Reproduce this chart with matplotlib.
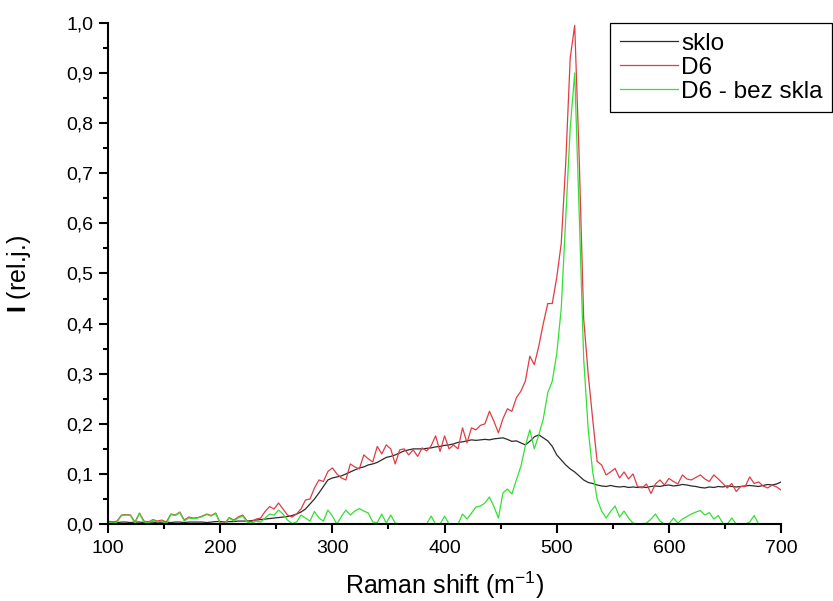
import numpy as np
import matplotlib
matplotlib.use("Agg")
import matplotlib.pyplot as plt
from matplotlib.ticker import FuncFormatter, MultipleLocator

plt.rcParams['font.family'] = ['Liberation Sans', 'DejaVu Sans']
plt.rcParams['mathtext.fontset'] = 'custom'
plt.rcParams['mathtext.rm'] = 'Liberation Sans'
plt.rcParams['mathtext.bf'] = 'Liberation Sans:bold'

# Raman shift grid (step 4)
raman_shift = np.arange(100, 701, 4)

sklo = [
    0.004, 0.004, 0.003, 0.004, 0.004, 0.003, 0.004, 0.004, 0.003, 0.004,
    0.004, 0.003, 0.004, 0.004, 0.003, 0.004, 0.004, 0.003, 0.004, 0.004,
    0.004, 0.004, 0.003, 0.004, 0.005, 0.005, 0.004, 0.005, 0.005, 0.006,
    0.006, 0.006, 0.007, 0.008, 0.009, 0.010, 0.011, 0.012, 0.013, 0.014,
    0.015, 0.017, 0.020, 0.024, 0.030, 0.040, 0.050, 0.062, 0.075, 0.088,
    0.092, 0.094, 0.096, 0.100, 0.104, 0.108, 0.112, 0.114, 0.118, 0.120,
    0.123, 0.128, 0.133, 0.135, 0.138, 0.142, 0.146, 0.148, 0.150, 0.150,
    0.150, 0.151, 0.152, 0.154, 0.155, 0.157, 0.158, 0.160, 0.163, 0.164,
    0.166, 0.168, 0.167, 0.168, 0.169, 0.168, 0.170, 0.171, 0.172, 0.169,
    0.165, 0.166, 0.162, 0.158, 0.165, 0.174, 0.178, 0.172, 0.166, 0.155,
    0.138, 0.128, 0.118, 0.110, 0.104, 0.096, 0.088, 0.083, 0.081, 0.078,
    0.076, 0.075, 0.077, 0.075, 0.074, 0.075, 0.073, 0.074, 0.073, 0.074,
    0.073, 0.075, 0.076, 0.075, 0.077, 0.078, 0.076, 0.077, 0.079, 0.078,
    0.076, 0.075, 0.073, 0.072, 0.074, 0.073, 0.075, 0.074, 0.076, 0.075,
    0.074, 0.075, 0.076, 0.077, 0.076, 0.075, 0.077, 0.079, 0.078, 0.080,
    0.084,
]

d6 = [
    0.006, 0.004, 0.006, 0.018, 0.019, 0.018, 0.004, 0.022, 0.006, 0.004,
    0.009, 0.006, 0.008, 0.004, 0.020, 0.018, 0.024, 0.008, 0.014, 0.012,
    0.013, 0.016, 0.020, 0.017, 0.022, 0.002, 0.001, 0.013, 0.008, 0.014,
    0.018, 0.006, 0.005, 0.010, 0.012, 0.025, 0.035, 0.030, 0.042, 0.030,
    0.018, 0.014, 0.020, 0.030, 0.048, 0.050, 0.072, 0.088, 0.085, 0.105,
    0.112, 0.100, 0.092, 0.088, 0.120, 0.114, 0.110, 0.138, 0.130, 0.124,
    0.155, 0.140, 0.158, 0.150, 0.120, 0.148, 0.150, 0.138, 0.148, 0.135,
    0.152, 0.146, 0.156, 0.176, 0.145, 0.176, 0.150, 0.158, 0.150, 0.192,
    0.162, 0.192, 0.188, 0.197, 0.200, 0.225, 0.205, 0.182, 0.210, 0.230,
    0.225, 0.252, 0.265, 0.285, 0.335, 0.318, 0.355, 0.400, 0.440, 0.440,
    0.492, 0.560, 0.720, 0.930, 0.995, 0.730, 0.410, 0.300, 0.210, 0.125,
    0.118, 0.098, 0.104, 0.111, 0.092, 0.104, 0.090, 0.100, 0.075, 0.072,
    0.080, 0.061, 0.080, 0.088, 0.078, 0.091, 0.085, 0.080, 0.098, 0.090,
    0.088, 0.093, 0.098, 0.090, 0.085, 0.098, 0.090, 0.081, 0.072, 0.081,
    0.065, 0.075, 0.075, 0.094, 0.081, 0.084, 0.076, 0.072, 0.078, 0.074,
    0.068,
]

d6_bez_skla = [
    0.004, 0.002, 0.004, 0.017, 0.018, 0.017, 0.002, 0.021, 0.004, 0.002,
    0.008, 0.004, 0.006, 0.001, 0.019, 0.017, 0.023, 0.006, 0.012, 0.011,
    0.012, 0.015, 0.019, 0.016, 0.021, 0.001, 0.000, 0.012, 0.006, 0.012,
    0.016, 0.004, 0.002, 0.006, 0.004, 0.012, 0.020, 0.018, 0.028, 0.020,
    0.008, 0.001, 0.004, 0.018, 0.012, 0.006, 0.025, 0.012, 0.006, 0.028,
    0.016, 0.000, 0.015, 0.028, 0.018, 0.026, 0.031, 0.026, 0.022, 0.004,
    0.003, 0.020, 0.002, 0.018, 0.002, 0.000, 0.000, 0.000, 0.000, 0.000,
    0.000, 0.000, 0.016, 0.000, 0.000, 0.016, 0.000, 0.000, 0.000, 0.020,
    0.010, 0.022, 0.034, 0.036, 0.042, 0.054, 0.035, 0.012, 0.062, 0.070,
    0.060, 0.088, 0.115, 0.156, 0.188, 0.150, 0.178, 0.210, 0.262, 0.285,
    0.340, 0.430, 0.610, 0.790, 0.900, 0.620, 0.330, 0.190, 0.105, 0.050,
    0.026, 0.012, 0.025, 0.036, 0.014, 0.026, 0.012, 0.002, 0.000, 0.000,
    0.002, 0.010, 0.020, 0.006, 0.000, 0.000, 0.012, 0.002, 0.010, 0.015,
    0.020, 0.024, 0.027, 0.018, 0.023, 0.010, 0.017, 0.002, 0.000, 0.012,
    0.000, 0.000, 0.000, 0.004, 0.017, 0.000, 0.000, 0.000, 0.000, 0.000,
    0.000,
]

fig = plt.figure(figsize=(8.33, 6.01), dpi=100)
ax = fig.add_axes([0.1297, 0.128, 0.808, 0.834])

ax.plot(raman_shift, sklo, color='#2b2b2b', lw=0.9, label='sklo')
ax.plot(raman_shift, d6, color='#e03c44', lw=0.9, label='D6')
ax.plot(raman_shift, d6_bez_skla, color='#33e033', lw=0.9, label='D6 - bez skla')

ax.set_xlim(100, 700)
ax.set_ylim(0, 1.0)
ax.xaxis.set_major_locator(MultipleLocator(100))
ax.xaxis.set_minor_locator(MultipleLocator(50))
ax.yaxis.set_major_locator(MultipleLocator(0.1))
ax.yaxis.set_minor_locator(MultipleLocator(0.05))
ax.yaxis.set_major_formatter(FuncFormatter(lambda v, p: f"{v:.1f}".replace('.', ',')))

for s in ['top', 'right']:
    ax.spines[s].set_visible(False)
for s in ['left', 'bottom']:
    ax.spines[s].set_linewidth(1.5)

ax.tick_params(which='major', direction='out', length=6.5, width=1.5, labelsize=14, colors='black')
ax.tick_params(which='minor', direction='out', length=3.5, width=1.5)
ax.tick_params(axis='x', pad=5)
ax.tick_params(axis='y', pad=4)

ax.set_xlabel(r"Raman shift (m$^{-1}$)", fontsize=18, labelpad=9)
ax.set_ylabel(r"$\mathbf{I}$ (rel.j.)", fontsize=18, labelpad=24)

leg = fig.legend(loc='upper left', bbox_to_anchor=(610 / 833, 1 - 23 / 601),
                 fontsize=17.5, handlelength=2.4, handletextpad=0.12,
                 borderpad=0.4, labelspacing=0.08, fancybox=False,
                 framealpha=1, edgecolor='black', borderaxespad=0)
leg.get_frame().set_linewidth(0.9)

plt.savefig("out.png", dpi=100)
